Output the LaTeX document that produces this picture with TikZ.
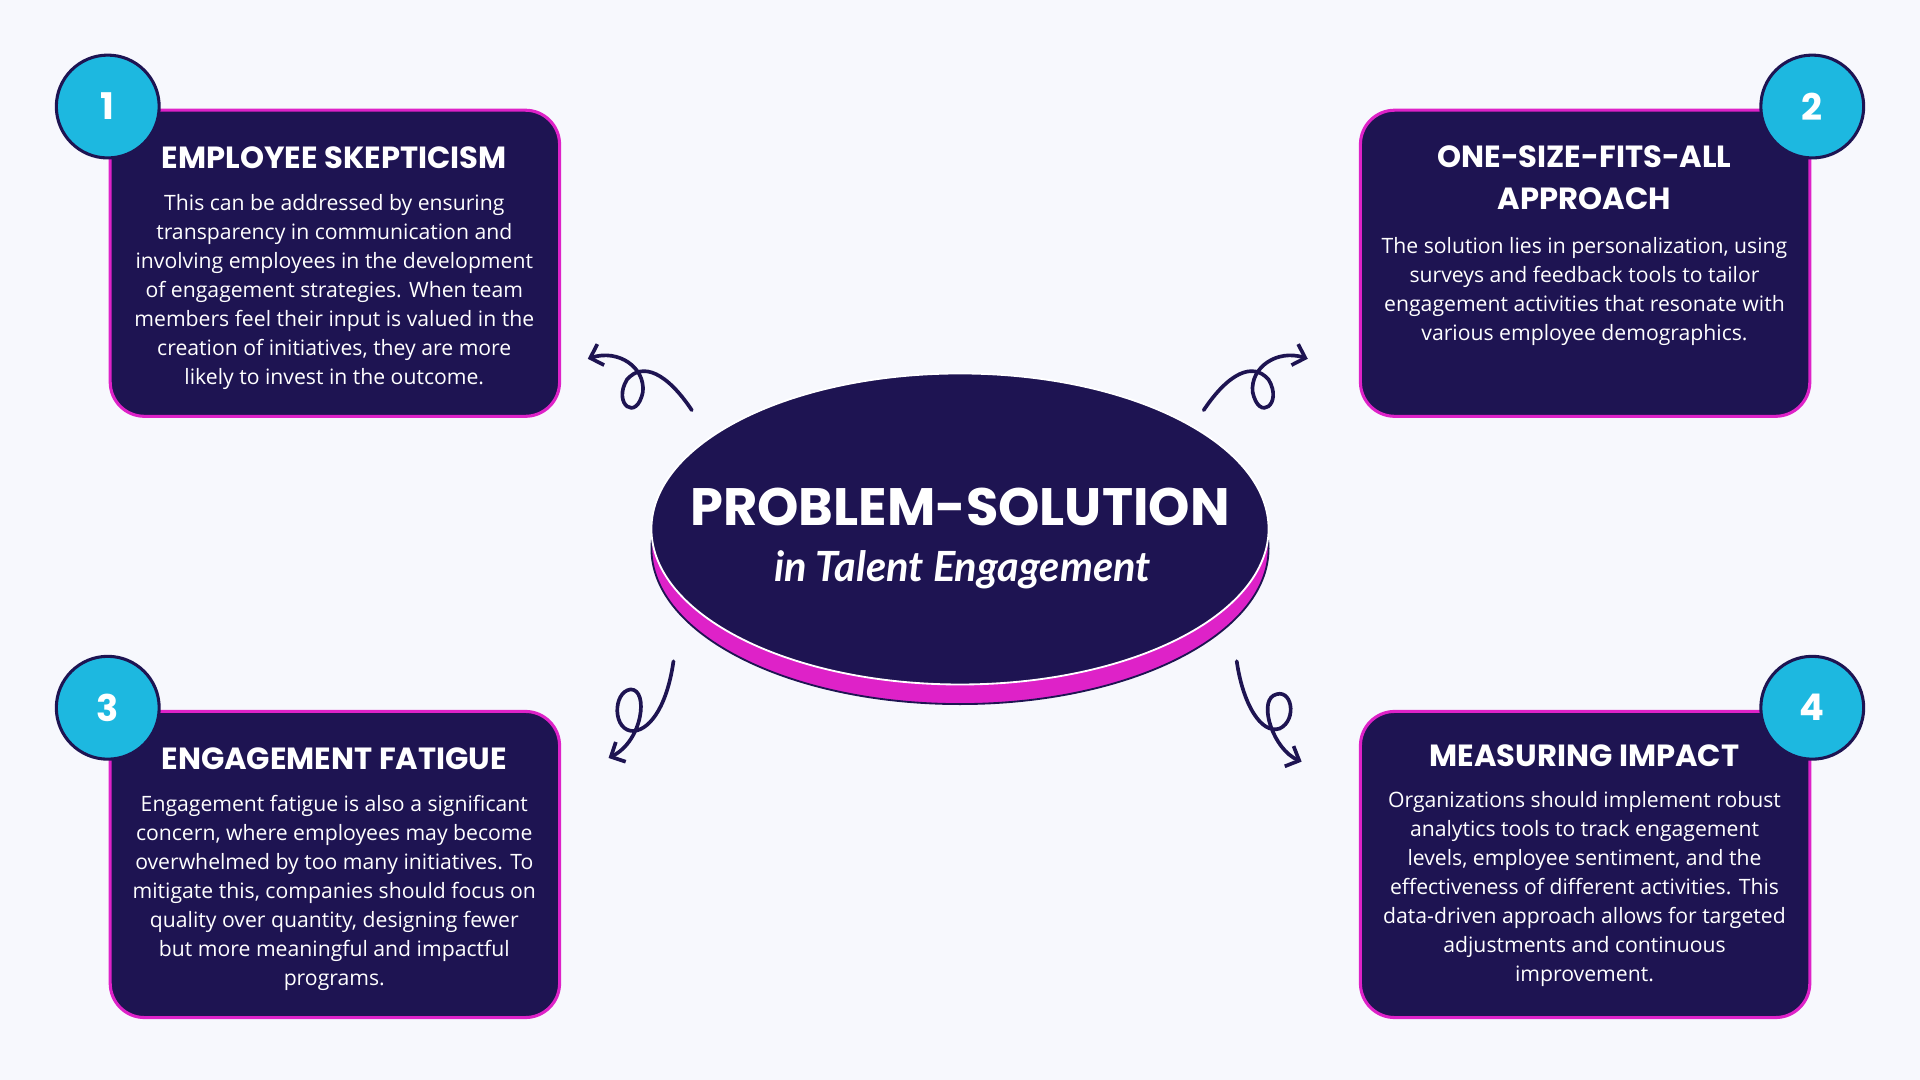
\documentclass[tikz,border=0pt]{standalone}
\usepackage{fontspec}
\setmainfont{Open Sans}
\newfontfamily\headf{Poppins}
\newfontfamily\subf{Lato}
\usetikzlibrary{arrows.meta}
\definecolor{bg}{HTML}{F7F8FD}
\definecolor{navy}{HTML}{1E1452}
\definecolor{mag}{HTML}{DE22C8}
\definecolor{cy}{HTML}{1DB8E0}
\begin{document}
\begin{tikzpicture}[x=1pt,y=-1pt,
 box/.style={fill=navy,draw=mag,line width=2.5pt,rounded corners=28pt},
 num/.style={circle,fill=cy,draw=navy,line width=2.5pt,minimum size=84pt,text=white,font=\headf\bfseries\fontsize{30}{30}\selectfont},
 head/.style={text=white,align=center,font=\headf\bfseries\fontsize{25}{34}\selectfont},
 body/.style={text=white,align=center,font=\fontsize{17.3}{23.7}\selectfont},
 carr/.style={draw=navy,line width=3pt,line cap=round,-{Straight Barb[length=9pt,width=18pt,line width=3pt]}}]
\fill[bg] (0,0) rectangle (1568,882);
\useasboundingbox (0,0) rectangle (1568,882);
% boxes
\draw[box] (90,90) rectangle (457,340);
\draw[box] (1111,90) rectangle (1478,340);
\draw[box] (90,581) rectangle (457,831);
\draw[box] (1111,581) rectangle (1478,831);
\node[num] (n1) at (88,87) {1};
\node[num] (n2) at (1480,87) {2};
\node[num] (n3) at (88,578) {3};
\node[num] (n4) at (1480,578) {4};
\node[head] (h1) at (273,129) {EMPLOYEE SKEPTICISM};
\node[body,anchor=north] (b1) at (273,155) {This can be addressed by ensuring\\transparency in communication and\\involving employees in the development\\of engagement strategies. When team\\members feel their input is valued in the\\creation of initiatives, they are more\\likely to invest in the outcome.};
\node[head] (h2) at (1294,145) {ONE-SIZE-FITS-ALL\\APPROACH};
\node[body,anchor=north] (b2) at (1294,190) {The solution lies in personalization, using\\surveys and feedback tools to tailor\\engagement activities that resonate with\\various employee demographics.};
\node[head] (h3) at (273,620) {ENGAGEMENT FATIGUE};
\node[body,anchor=north] (b3) at (273,646) {Engagement fatigue is also a significant\\concern, where employees may become\\overwhelmed by too many initiatives. To\\mitigate this, companies should focus on\\quality over quantity, designing fewer\\but more meaningful and impactful\\programs.};
\node[head] (h4) at (1294,617) {MEASURING IMPACT};
\node[body,anchor=north] (b4) at (1294,643) {Organizations should implement robust\\analytics tools to track engagement\\levels, employee sentiment, and the\\effectiveness of different activities. This\\data-driven approach allows for targeted\\adjustments and continuous\\improvement.};
% center
\draw[fill=mag,draw=navy,line width=1.5pt] (784,448) ellipse [x radius=252pt,y radius=127pt];
\draw[fill=navy,draw=white,line width=1.5pt] (784,432) ellipse [x radius=252pt,y radius=127pt];
\node[text=white,font=\headf\bfseries\fontsize{43}{43}\selectfont] (t1) at (784,414) {PROBLEM-SOLUTION};
\node[text=white,font=\subf\bfseries\itshape\fontsize{34}{34}\selectfont] (t2) at (786,465) {in Talent Engagement};
% arrows
\draw[carr] (565,335) .. controls (545,305) and (525,295) .. (512,310) .. controls (500,330) and (520,345) .. (525,320) .. controls (527,300) and (505,285) .. (480,293);
\draw[carr] (983,335) .. controls (1003,305) and (1023,295) .. (1036,310) .. controls (1048,330) and (1028,345) .. (1023,320) .. controls (1021,300) and (1043,285) .. (1068,293);
\draw[carr] (550,540) .. controls (545,575) and (532,595) .. (518,597) .. controls (500,598) and (500,565) .. (515,563) .. controls (530,563) and (525,605) .. (497,619);
\draw[carr] (1010,540) .. controls (1015,575) and (1030,600) .. (1045,595) .. controls (1060,588) and (1055,560) .. (1040,568) .. controls (1028,575) and (1040,612) .. (1063,622);
\end{tikzpicture}
\end{document}
